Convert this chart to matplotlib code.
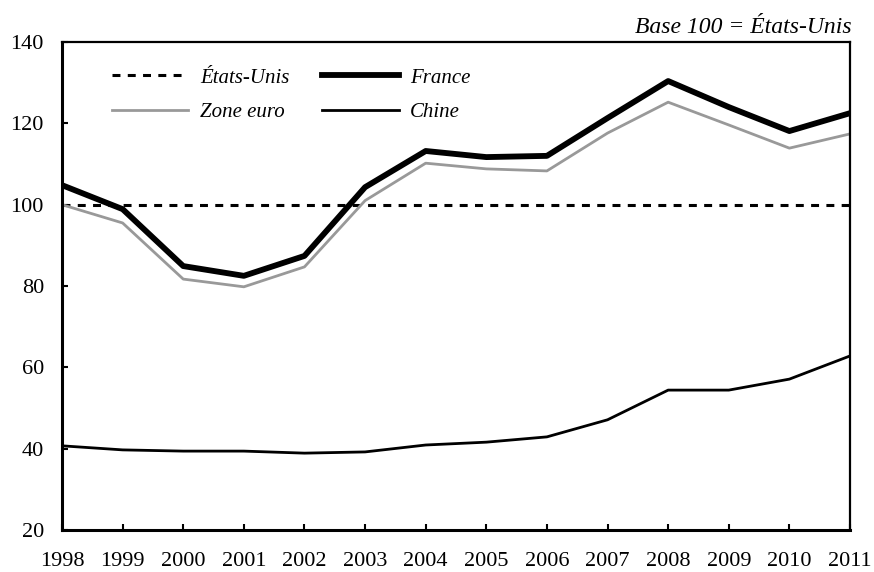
import matplotlib
matplotlib.use("Agg")
import matplotlib.pyplot as plt

years = [1998, 1999, 2000, 2001, 2002, 2003, 2004, 2005, 2006, 2007, 2008, 2009, 2010, 2011]
etats_unis = [100] * 14
france = [104.8, 98.9, 84.9, 82.5, 87.4, 104.3, 113.2, 111.7, 112.0, 121.3, 130.4, 124.0, 118.1, 122.5]
zone_euro = [100.0, 95.5, 81.7, 79.8, 84.7, 101.0, 110.2, 108.8, 108.3, 117.6, 125.2, 119.6, 113.9, 117.4]
chine = [40.7, 39.7, 39.4, 39.4, 38.9, 39.2, 40.9, 41.6, 42.9, 47.1, 54.4, 54.4, 57.1, 62.8]
yticks = [20, 40, 60, 80, 100, 120, 140]

plt.rcParams['font.family'] = ['Liberation Serif', 'DejaVu Serif']

fig = plt.figure(figsize=(8.74, 5.72), dpi=100)
ax = fig.add_axes([62/874, 1 - 530/572, (850-62)/874, (530-42)/572])

l_us, = ax.plot(years, etats_unis, color='black', lw=2.2, linestyle=(0, (2.6, 2.4)), label='États-Unis')
l_ze, = ax.plot(years, zone_euro, color='#999999', lw=2.0, label='Zone euro')
l_fr, = ax.plot(years, france, color='black', lw=4.2, label='France')
l_cn, = ax.plot(years, chine, color='black', lw=2.0, label='Chine')

ax.set_xlim(1998, 2011)
ax.set_ylim(20, 140)
ax.set_xticks(years)
ax.set_xticklabels([str(y) for y in years])
ax.set_yticks(yticks)

ax.tick_params(axis='both', direction='in', labelsize=16, color='black', width=1.5, length=4)
ax.tick_params(axis='x', pad=16)
ax.tick_params(axis='y', pad=13)

for side in ['left', 'bottom']:
    ax.spines[side].set_linewidth(2.2)
for side in ['top', 'right']:
    ax.spines[side].set_linewidth(1.6)

leg = ax.legend(handles=[l_us, l_ze, l_fr, l_cn], ncol=2, frameon=False,
                loc='upper left', bbox_to_anchor=(0.04, 0.985),
                prop={'style': 'italic', 'size': 15}, handlelength=3.65,
                columnspacing=1.6, labelspacing=0.7, handletextpad=0.55)

fig.text(852/874, 1 - 33/572, 'Base 100 = États-Unis', ha='right', va='baseline',
         fontsize=17, style='italic')

fig.savefig('out.png', dpi=100)
